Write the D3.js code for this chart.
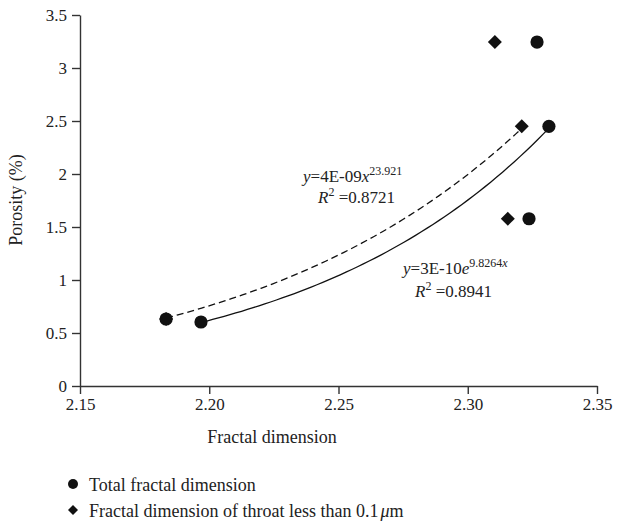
<!DOCTYPE html>
<html>
<head>
<meta charset="utf-8">
<script src="https://cdn.jsdelivr.net/npm/d3@7/dist/d3.min.js"></script>
<style>
  body { margin: 0; background: #fff; }
  svg text { font-family: "Liberation Serif", "DejaVu Serif", serif; fill: #222; }
  .axis path, .axis line { stroke: #333; stroke-width: 1.4; }
</style>
</head>
<body>
<svg id="chart" width="617" height="527"></svg>
<script>
// data
const xTicks = [2.15, 2.20, 2.25, 2.30, 2.35];
const yTicks = [0, 0.5, 1, 1.5, 2, 2.5, 3, 3.5];

// total fractal dimension (circles)
const totalX = [2.1968, 2.3237, 2.3268, 2.3314];
const totalY = [0.604, 1.578, 3.245, 2.45];

// fractal dimension of throat < 0.1um (diamonds); first point sits under a circle
const throatX = [2.1833, 2.3105, 2.3155, 2.3209];
const throatY = [0.632, 3.245, 1.578, 2.45];

const svg = d3.select("#chart");

const x = d3.scaleLinear().domain([2.15, 2.35]).range([80, 597]);
const y = d3.scaleLinear().domain([0, 3.5]).range([386, 15]);

// --- axes ---------------------------------------------------------
const xAxisG = svg.append("g")
  .attr("class", "axis")
  .attr("transform", "translate(0,386)")
  .call(d3.axisBottom(x).tickValues(xTicks).tickFormat(d3.format(".2f"))
    .tickSize(8).tickSizeOuter(0).tickPadding(4));

const yAxisG = svg.append("g")
  .attr("class", "axis")
  .attr("transform", "translate(80,0)")
  .call(d3.axisLeft(y).tickValues(yTicks).tickFormat(d => String(d))
    .tickSize(8).tickSizeOuter(0).tickPadding(5));

[xAxisG, yAxisG].forEach(g => {
  g.attr("font-family", null).attr("font-size", null);
  g.selectAll("text")
    .style("font-family", "'Liberation Serif', serif")
    .style("font-size", "17px")
    .attr("fill", "#222");
});

svg.append("text")
  .attr("x", 272).attr("y", 443)
  .attr("text-anchor", "middle")
  .attr("font-size", 18)
  .text("Fractal dimension");

svg.append("text")
  .attr("transform", "translate(22,200) rotate(-90)")
  .attr("text-anchor", "middle")
  .attr("font-size", 18)
  .text("Porosity (%)");

// --- trendlines (least squares, like the spreadsheet) ---------------
function lsq(xs, ys) {
  const mx = d3.mean(xs), my = d3.mean(ys);
  const b = d3.sum(xs, (v, i) => (v - mx) * (ys[i] - my)) / d3.sum(xs, v => (v - mx) * (v - mx));
  return { a: my - b * mx, b };
}

const expFit = lsq(totalX, totalY.map(Math.log));
const powFit = lsq(throatX.map(Math.log), throatY.map(Math.log));

function sampleCurve(x0, x1, f) {
  return d3.range(0, 61).map(i => {
    const xv = x0 + (x1 - x0) * i / 60;
    return [xv, f(xv)];
  });
}

const line = d3.line().x(d => x(d[0])).y(d => y(d[1]));

svg.append("path")
  .datum(sampleCurve(d3.min(throatX), d3.max(throatX),
    v => Math.exp(powFit.a + powFit.b * Math.log(v))))
  .attr("d", line)
  .attr("fill", "none")
  .attr("stroke", "#111")
  .attr("stroke-width", 1.3)
  .attr("stroke-dasharray", "7,4");

svg.append("path")
  .datum(sampleCurve(d3.min(totalX), d3.max(totalX),
    v => Math.exp(expFit.a + expFit.b * v)))
  .attr("d", line)
  .attr("fill", "none")
  .attr("stroke", "#111")
  .attr("stroke-width", 1.3);

// --- markers --------------------------------------------------------
const diamond = d3.symbol().type(d3.symbolSquare).size(98);

svg.append("g").selectAll("path")
  .data(throatX.map((v, i) => [v, throatY[i]]))
  .join("path")
  .attr("d", diamond)
  .attr("transform", d => `translate(${x(d[0])},${y(d[1])}) rotate(45)`)
  .attr("fill", "#111");

// the throat series' first point is drawn as a circle in the figure
svg.append("g").selectAll("circle")
  .data(totalX.map((v, i) => [v, totalY[i]]).concat([[throatX[0], throatY[0]]]))
  .join("circle")
  .attr("cx", d => x(d[0]))
  .attr("cy", d => y(d[1]))
  .attr("r", 6.6)
  .attr("fill", "#111");

// --- equation labels ------------------------------------------------
function equation(xp, yp, parts) {
  const t = svg.append("text").attr("x", xp).attr("y", yp).attr("font-size", 17);
  parts.forEach(p => {
    const s = t.append("tspan").text(p.t);
    if (p.i) s.attr("font-style", "italic");
    if (p.sup) s.attr("font-size", 12).attr("baseline-shift", "super");
  });
}

equation(303, 182, [{ t: "y", i: true }, { t: "=4E-09" }, { t: "x", i: true }, { t: "23.921", sup: true }]);
equation(318, 203, [{ t: "R", i: true }, { t: "2", sup: true }, { t: " =0.8721" }]);
equation(403, 274, [{ t: "y", i: true }, { t: "=3E-10" }, { t: "e", i: true }, { t: "9.8264", sup: true }, { t: "x", i: true, sup: true }]);
equation(415, 297, [{ t: "R", i: true }, { t: "2", sup: true }, { t: " =0.8941" }]);

// --- legend ---------------------------------------------------------
const legendItems = ["Total fractal dimension", "Fractal dimension of throat less than 0.1"];
const legendY = [484, 510];

svg.append("circle").attr("cx", 73).attr("cy", legendY[0]).attr("r", 5).attr("fill", "#111");
svg.append("path")
  .attr("d", d3.symbol().type(d3.symbolSquare).size(50))
  .attr("transform", `translate(73,${legendY[1]}) rotate(45)`)
  .attr("fill", "#111");

legendItems.forEach((label, i) => {
  const t = svg.append("text").attr("x", 89).attr("y", legendY[i] + 7).attr("font-size", 18).text(label);
  if (i === 1) {
    t.append("tspan").attr("font-style", "italic").attr("dx", 2).text("\u03bc");
    t.append("tspan").text("m");
  }
});
</script>
</body>
</html>
